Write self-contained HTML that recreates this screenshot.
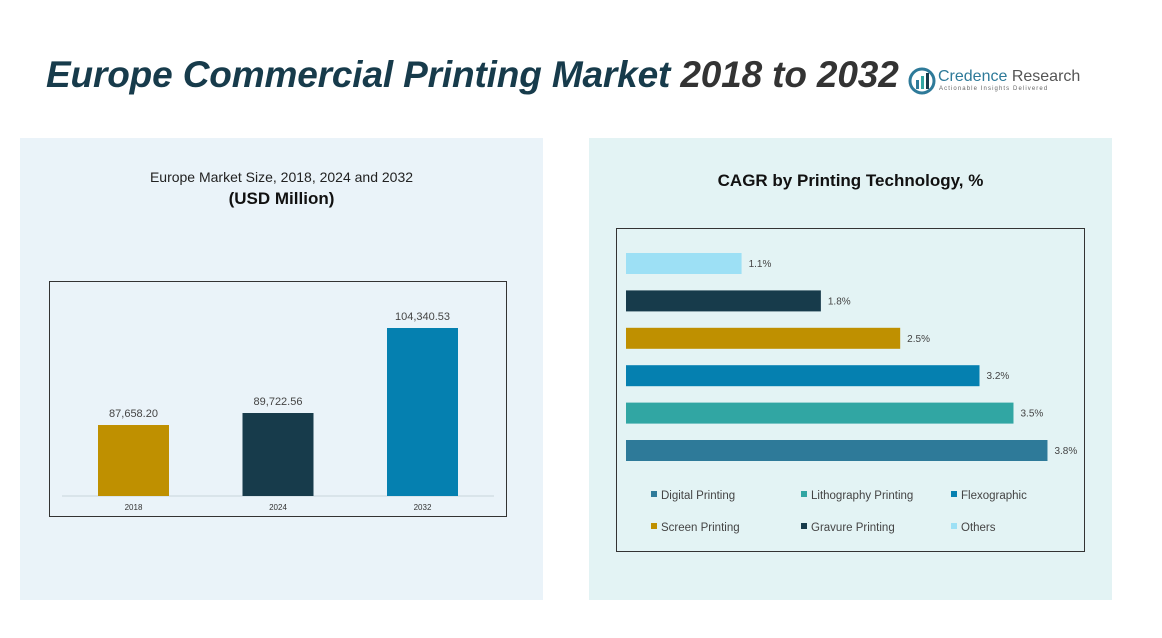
<!DOCTYPE html>
<html><head><meta charset="utf-8"><style>
body{margin:0;width:1162px;height:638px;background:#fff;position:relative;overflow:hidden;font-family:"Liberation Sans",sans-serif}
div{position:absolute}
</style></head><body>
<div style="left:46px;top:54px;font-size:37px;font-weight:bold;font-style:italic;color:#173b4b;letter-spacing:-0.15px;white-space:nowrap">Europe Commercial Printing Market <span style="color:#333">2018 to 2032</span></div>
<div style="left:908px;top:66px;width:180px;height:30px">
<svg width="30" height="30" style="position:absolute;left:0;top:0"><circle cx="14" cy="15" r="12" fill="none" stroke="#2e7a99" stroke-width="3"/><rect x="8" y="14" width="3" height="9" fill="#2e7a99"/><rect x="13" y="10" width="3" height="13" fill="#31a6a3"/><rect x="18" y="7" width="3" height="16" fill="#173b4b"/></svg>
<div style="left:30px;top:2px;font-size:16px;color:#2e7a99;white-space:nowrap">Credence <span style="color:#555">Research</span></div>
<div style="left:31px;top:20px;font-size:6px;color:#666;letter-spacing:1.1px;white-space:nowrap">Actionable Insights Delivered</div>
</div>
<div style="left:20px;top:138px;width:523px;height:462px;background:#eaf3f9"></div>
<div style="left:589px;top:138px;width:523px;height:462px;background:#e3f3f4"></div>
<div style="left:20px;top:169px;width:523px;text-align:center;font-size:14px;color:#222">Europe Market Size, 2018, 2024 and 2032</div>
<div style="left:20px;top:189px;width:523px;text-align:center;font-size:17px;font-weight:bold;color:#111">(USD Million)</div>
<div style="left:589px;top:171px;width:523px;text-align:center;font-size:17px;font-weight:bold;color:#111">CAGR by Printing Technology, %</div>
<svg id="c1" width="1162" height="638" style="position:absolute;left:0;top:0"></svg>
<script>
const years=["2018","2024","2032"];
const sizes=[87658.20,89722.56,104340.53];
const sizeLabels=["87,658.20","89,722.56","104,340.53"];
const techs=["Others","Gravure Printing","Screen Printing","Flexographic","Lithography Printing","Digital Printing"];
const cagr=[1.1,1.8,2.5,3.2,3.5,3.8];
const cagrLabels=["1.1%","1.8%","2.5%","3.2%","3.5%","3.8%"];
const legendOrder=["Digital Printing","Lithography Printing","Flexographic","Screen Printing","Gravure Printing","Others"];
const NS="http://www.w3.org/2000/svg";
const svg=document.getElementById('c1');
function el(t,a,txt){const e=document.createElementNS(NS,t);for(const k in a)e.setAttribute(k,a[k]);if(txt!==undefined)e.textContent=txt;svg.appendChild(e);return e;}
let r=el('rect',{x:49.5,y:281.5,width:457,height:235,fill:'none',stroke:'#333','stroke-width':1});


let bl=el('line',{x1:62,x2:494,y1:496,y2:496,stroke:'#c8d4da'});


const yMin=75450, ySlope=0.005815, base=496;
const yS=v=>base-(v-yMin)*ySlope;
const xS=i=>98+i*144.5;
const colors1=['#bf9000','#173b4b','#0580b0'];
years.forEach((y,i)=>{
 const b=el('rect',{x:xS(i),y:yS(sizes[i]),width:71,height:base-yS(sizes[i]),fill:colors1[i]});
 
 
 const l=el('text',{x:xS(i)+35.5,y:yS(sizes[i])-8,'text-anchor':'middle','font-size':11,fill:'#444'},sizeLabels[i]);
 
 
 const t=el('text',{x:xS(i)+35.5,y:510,'text-anchor':'middle','font-size':8,fill:'#333'},y);
 
 
});
let r2=el('rect',{x:616.5,y:228.5,width:468,height:323,fill:'none',stroke:'#333','stroke-width':1});


const colors2={"Others":'#9de0f5',"Gravure Printing":'#173b4b',"Screen Printing":'#bf9000',"Flexographic":'#0580b0',"Lithography Printing":'#31a6a3',"Digital Printing":'#2e7a99'};
const xMin=0.08, xSlope=113.3, x0=626;
const xC=v=>x0+(v-xMin)*xSlope;
techs.forEach((t,i)=>{
 const y=253+i*37.4;
 const b=el('rect',{x:x0,y:y,width:xC(cagr[i])-x0,height:21,fill:colors2[t]});
 
 
 const l=el('text',{x:xC(cagr[i])+7,y:y+14,'font-size':10,fill:'#444'},cagrLabels[i]);
 
 
});
legendOrder.forEach((t,i)=>{
 const lx=651+(i%3)*150, ly=495+Math.floor(i/3)*32;
 const s=el('rect',{x:lx,y:ly-4,width:6,height:6,fill:colors2[t]});
 
 
 const tx=el('text',{x:lx+10,y:ly+4,'font-size':11.5,fill:'#444'},t);
 
 
});
</script>
</body></html>
